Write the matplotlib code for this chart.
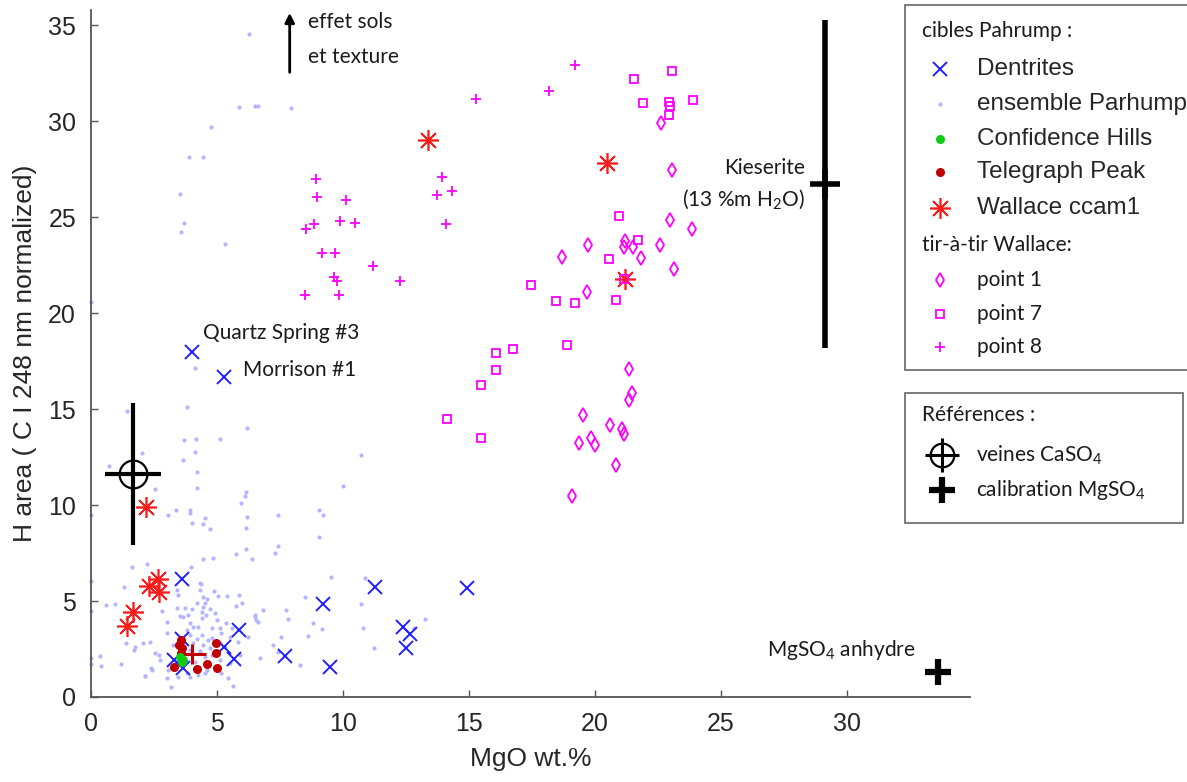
"""MgO vs H-area scatter (ChemCam Pahrump targets) redrawn with matplotlib."""

import matplotlib

matplotlib.use("Agg")
import matplotlib.pyplot as plt  # noqa: E402
from matplotlib.patches import Rectangle  # noqa: E402

plt.rcParams["font.family"] = ["Liberation Sans", "DejaVu Sans"]
plt.rcParams["mathtext.fontset"] = "custom"
plt.rcParams["mathtext.rm"] = "Lato"
plt.rcParams["mathtext.it"] = "Lato:italic"

# --- data ----------------------------------------------------------------
ens_x = [6.25, 5.86, 6.52, 6.61, 7.94, 4.74, 3.88, 4.44, 3.53, 3.67, 3.55, 5.33, 0.0,
         4.12, 3.79, 1.43, 6.18, 3.69, 4.17, 5.10, 4.13, 3.64, 10.73, 2.01, 0.71, 4.19,
         2.55, 4.19, 9.98, 6.14, 6.10, 5.94, 0.0, 3.03, 3.37, 3.92, 3.92, 4.02, 4.52,
         4.44, 4.70, 6.20, 6.13, 7.41, 9.04, 9.22, 9.04, 7.41, 7.29, 5.73, 6.13, 6.39,
         4.44, 4.84, 1.60, 2.20,
         9.51, 10.89, 1.28, 0.58, 0.94, 0.0, 0.0, 2.79, 4.31, 4.88, 4.18, 4.51, 4.60,
         4.45, 5.41, 5.85, 5.97, 5.74, 6.83, 6.50, 6.54, 7.75, 7.82, 8.48, 8.81, 9.15,
         8.61, 7.54, 7.22, 6.72, 8.28, 10.70, 10.80, 11.22, 13.27, 12.82, 0.0, 0.35,
         0.37, 1.17, 0.0, 1.38, 1.69, 2.33, 2.69, 2.12, 2.36, 2.99, 3.16,
         3.98, 4.34, 3.39, 3.46, 5.04, 4.42, 4.38, 4.71, 4.55, 3.86, 3.52, 3.66, 2.99,
         2.06, 1.73, 2.53, 2.71, 2.40, 2.13, 2.99, 3.92, 4.05, 4.25, 4.78, 5.11, 5.37,
         5.17, 4.38, 3.92, 4.65, 4.45, 4.71, 5.11, 4.05, 3.92, 4.51, 5.11, 5.17, 4.51,
         3.79, 3.46, 3.92, 5.44, 5.64, 5.50, 5.90, 6.50, 6.64, 7.42, 6.23, 5.83, 5.50,
         3.25, 3.05, 3.39, 3.72, 4.31, 4.25,
         4.20, 4.80, 4.30, 4.80, 4.10, 4.60, 5.30, 5.00, 4.40, 4.00, 3.80, 5.60, 4.90]
ens_y = [34.56, 30.74, 30.82, 30.80, 30.69, 29.70, 28.14, 28.14, 26.20, 24.72, 24.22,
         23.63, 20.60,
         17.15, 15.10, 14.88, 14.01, 13.40, 13.42, 13.47, 12.78, 12.34, 12.59, 12.73,
         12.05, 11.72, 10.85, 10.90, 11.01, 10.68, 10.45, 10.09, 9.46, 9.50, 9.77, 9.77,
         9.60, 9.05, 9.32, 8.99, 8.75, 9.38, 8.79, 9.46, 9.74, 9.50, 8.35, 7.88, 7.52,
         7.45, 7.71, 7.20, 7.20, 7.26, 6.75, 6.91,
         6.27, 6.18, 5.71, 4.79, 4.83, 6.03, 4.46, 4.48, 5.95, 5.54, 4.91, 4.90, 5.10,
         4.70, 5.26, 5.31, 4.91, 4.74, 4.51, 4.27, 3.99, 4.55, 4.05, 5.19, 3.84, 3.54,
         3.19, 3.13, 2.72, 2.02, 1.67, 4.86, 3.59, 2.54, 4.06, 3.61, 2.02, 2.14, 1.61,
         1.70, 1.70, 2.80, 2.45, 2.88, 2.19, 1.09, 1.49, 3.32, 0.54,
         6.79, 5.89, 5.57, 5.33, 5.26, 5.19, 4.44, 4.58, 4.27, 4.27, 4.22, 4.18, 3.92,
         2.80, 2.59, 2.28, 1.93, 1.41, 1.11, 0.97, 3.84, 3.66, 3.66, 3.58, 3.58, 3.87,
         3.32, 3.23, 3.23, 2.97, 2.71, 2.54, 2.80, 2.80, 2.45, 2.10, 1.93, 1.23, 1.23,
         1.23, 1.06, 1.06, 0.97, 0.57, 1.76, 2.19, 4.18, 3.92, 2.36, 3.14, 2.88, 3.14,
         2.71, 1.41, 4.62, 4.62, 5.57, 1.15,
         3.00, 3.10, 2.40, 2.20, 1.80, 1.40, 2.60, 4.00, 4.10, 4.60, 3.50, 3.60, 4.40]

dent_x = [3.60, 11.26, 14.91, 9.19, 12.37, 12.65, 12.49, 5.86, 5.28, 5.65, 3.27, 3.66,
          3.60, 7.69, 9.47, 4.00, 5.28]
dent_y = [6.15, 5.73, 5.68, 4.84, 3.65, 3.28, 2.55, 3.49, 2.59, 1.96, 1.93, 1.49,
          3.00, 2.14, 1.56, 17.97, 16.68]

conf_x = [3.63, 3.52, 3.60]
conf_y = [1.93, 2.10, 1.80]

tele_x = [3.56, 3.59, 3.50, 3.55, 4.97, 4.94, 4.19, 4.58, 4.99, 3.29]
tele_y = [2.97, 2.54, 2.70, 2.30, 2.83, 2.28, 1.46, 1.72, 1.53, 1.55]
tele_mean = (4.02, 2.22)
tele_err = (0.55, 0.52)

wall_x = [13.37, 20.50, 21.21, 2.16, 2.63, 2.30, 2.69, 1.64, 1.40]
wall_y = [29.01, 27.83, 21.79, 9.91, 6.15, 5.80, 5.45, 4.41, 3.71]

p1_x = [22.63, 23.07, 23.00, 23.85, 19.74, 21.21, 21.14, 21.52, 22.57, 18.69, 21.85,
        23.13, 19.67, 21.34, 21.47, 21.34, 19.54, 20.62, 21.07, 21.15, 19.86, 19.39,
        20.00, 20.82, 19.08]
p1_y = [29.91, 27.48, 24.88, 24.38, 23.56, 23.77, 23.45, 23.45, 23.54, 22.93, 22.90,
        22.31, 21.11, 17.10, 15.83, 15.47, 14.67, 14.15, 13.94, 13.70, 13.51, 13.25,
        13.14, 12.07, 10.47]

p7_x = [21.54, 23.07, 21.90, 22.94, 22.99, 23.90, 22.95, 20.94, 21.72, 20.56, 17.48,
        18.44, 19.22, 20.82, 21.15, 18.89, 16.76, 16.06, 16.06, 15.48, 14.13, 15.48]
p7_y = [32.19, 32.60, 30.94, 31.03, 30.82, 31.11, 30.35, 25.05, 23.80, 22.81, 21.46,
        20.61, 20.54, 20.69, 21.76, 18.35, 18.11, 17.93, 17.02, 16.25, 14.50, 13.49]

p8_x = [19.22, 18.19, 15.29, 13.93, 14.33, 13.75, 14.08, 8.92, 8.97, 10.12, 8.85, 8.52,
        9.88, 10.46, 9.17, 9.68, 11.18, 9.63, 9.76, 12.26, 8.48, 9.82]
p8_y = [32.95, 31.60, 31.18, 27.08, 26.39, 26.15, 24.64, 26.98, 26.06, 25.89, 24.64,
        24.39, 24.83, 24.72, 23.14, 23.14, 22.46, 21.89, 21.68, 21.69, 20.95, 20.95]

# reference minerals: centre, x error, y error
caso4 = (1.67, 11.63, 1.11, 3.70)
kieserite = (29.15, 26.72, 8.54)
mgso4_anh = (33.62, 1.32)

LAV = "#b4b4ff"
BLUE = "#1f1fff"
MAG = "#ff00ff"
RED = "#ff1a1a"
DRED = "#c00000"
GREEN = "#11cc11"
ASTER = (8, 2, 0)

fig = plt.figure(figsize=(11.87, 7.82), dpi=100)
ax = fig.add_axes([0.0769, 0.1087, 0.7403, 0.8785])

ax.plot(ens_x, ens_y, "o", ms=3.0, color=LAV, mec="none", clip_on=False, zorder=1)
ax.plot(dent_x, dent_y, "x", ms=10, mew=1.4, color=BLUE, zorder=3)
ax.plot(wall_x, wall_y, ls="none", marker=ASTER, ms=15, mew=1.2, color=RED, zorder=3)
ax.plot(p1_x, p1_y, "d", ms=7.5, mfc="none", mew=1.3, color=MAG, zorder=3)
ax.plot(p7_x, p7_y, "s", ms=6, mfc="none", mew=1.3, color=MAG, zorder=3)
ax.plot(p8_x, p8_y, "+", ms=7, mew=1.3, color=MAG, zorder=3)
ax.plot(tele_x, tele_y, "o", ms=6.5, color=DRED, mec="none", zorder=4)
ax.errorbar(*tele_mean, xerr=tele_err[0], yerr=tele_err[1], fmt="none",
            ecolor=DRED, elinewidth=2.2, zorder=4)
ax.plot(conf_x, conf_y, "o", ms=6.5, color=GREEN, mec="none", zorder=5)

# references
ax.errorbar(caso4[0], caso4[1], xerr=caso4[2], yerr=caso4[3], fmt="o", ms=20,
            mfc="none", mec="k", mew=1.6, ecolor="k", elinewidth=3, zorder=6)
ax.errorbar(kieserite[0], kieserite[1], yerr=kieserite[2], fmt="+", ms=22, mew=4,
            color="k", elinewidth=4, zorder=6)
ax.plot(mgso4_anh[0], mgso4_anh[1], "+", ms=19, mew=4.5, color="k", zorder=6)

# annotations
ann = dict(family=["Lato", "DejaVu Sans"], fontsize=15, color="#1a1a1a")
ax.text(4.43, 18.96, "Quartz Spring #3", va="center", **ann)
ax.text(6.02, 17.03, "Morrison #1", va="center", **ann)
ax.text(8.60, 35.16, "effet sols", va="center", **ann)
ax.text(8.60, 33.33, "et texture", va="center", **ann)
ax.text(28.35, 27.55, "Kieserite", ha="right", va="center", **ann)
ax.text(28.35, 25.94, "(13 %m H$_2$O)", ha="right", va="center", **ann)
ax.text(26.85, 2.45, "MgSO$_4$ anhydre", va="center", **ann)
ax.annotate("", xy=(7.88, 35.65), xytext=(7.88, 32.55),
            arrowprops=dict(arrowstyle="-|>", lw=2, color="k", mutation_scale=14,
                            shrinkA=0, shrinkB=0))

ax.set_xlim(0, 34.9)
ax.set_ylim(0, 35.8)
ax.set_xticks([0, 5, 10, 15, 20, 25, 30])
ax.set_yticks([0, 5, 10, 15, 20, 25, 30, 35])
for side in ("top", "right"):
    ax.spines[side].set_visible(False)
for side in ("left", "bottom"):
    ax.spines[side].set_color("#555555")
    ax.spines[side].set_linewidth(1.3)
ax.tick_params(direction="in", length=5, width=1, colors="#555555",
               labelcolor="#262626", labelsize=18, pad=11)
ax.set_xlabel("MgO wt.%", fontsize=19, color="#262626", labelpad=8)
ax.set_ylabel("H area ( C I 248 nm normalized)", fontsize=19, color="#262626",
              labelpad=8)

# --- hand-built legends in pixel coordinates ----------------------------
lax = fig.add_axes([0, 0, 1, 1], zorder=10)
lax.set_xlim(0, 1187)
lax.set_ylim(782, 0)
lax.axis("off")
lax.add_patch(Rectangle((905, 5), 300, 365, fc="white", ec="#666666", lw=1.2,
                        clip_on=False))
lax.add_patch(Rectangle((905, 393), 278, 130, fc="white", ec="#666666", lw=1.2))

myr = dict(family=["Lato", "DejaVu Sans"], fontsize=15, color="#1a1a1a", va="center")
ari = dict(fontsize=17.5, color="#262626", va="center")
lax.text(922, 31, "cibles Pahrump :", **myr)
lax.text(922, 245, "tir-à-tir Wallace:", **myr)
lax.text(922, 415, "Références :", **myr)

entries = [
    (69, dict(marker="x", ms=10, mew=1.4, color=BLUE), "Dentrites", ari),
    (104, dict(marker="o", ms=3.0, color=LAV, mec="none"), "ensemble Parhump", ari),
    (139, dict(marker="o", ms=6.5, color=GREEN, mec="none"), "Confidence Hills", ari),
    (172, dict(marker="o", ms=6.5, color=DRED, mec="none"), "Telegraph Peak", ari),
    (208, dict(marker=ASTER, ms=15, mew=1.2, color=RED), "Wallace ccam1", ari),
    (280, dict(marker="d", ms=7.5, mfc="none", mew=1.3, color=MAG), "point 1", myr),
    (314, dict(marker="s", ms=6, mfc="none", mew=1.3, color=MAG), "point 7", myr),
    (347, dict(marker="+", ms=7, mew=1.3, color=MAG), "point 8", myr),
]
for yy, style, label, tstyle in entries:
    lax.plot([940], [yy], ls="none", clip_on=False, **style)
    lax.text(977, yy, label, clip_on=False, **tstyle)

lax.plot([942], [455], "o", ms=17, mfc="none", mec="k", mew=1.6)
lax.plot([942], [455], "+", ms=24, mew=2.2, color="k")
lax.text(976, 455, "veines CaSO$_4$", **myr)
lax.plot([942], [490], "+", ms=19, mew=4.5, color="k")
lax.text(976, 490, "calibration MgSO$_4$", **myr)

fig.savefig("out.png", dpi=100)
